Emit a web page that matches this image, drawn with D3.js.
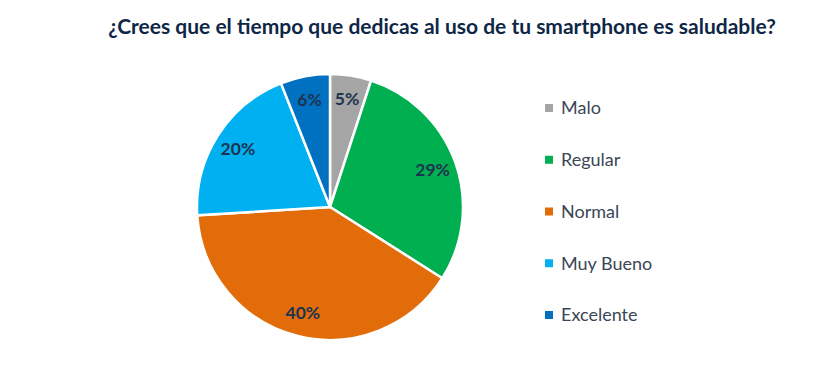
<!DOCTYPE html>
<meta charset="utf-8">
<script src="https://d3js.org/d3.v7.min.js"></script>
<style>
body{margin:0;background:#fff;}
svg{font-family:Lato,"Open Sans",sans-serif;}
</style>
<div id="chart"></div>
<script>
const categories = ["Malo", "Regular", "Normal", "Muy Bueno", "Excelente"];
const values = [5, 29, 40, 20, 6];
const colors = ["#A5A5A5", "#00B050", "#E36C0A", "#00B0F0", "#0070C0"];
const title = "¿Crees que el tiempo que dedicas al uso de tu smartphone es saludable?";

const width = 820, height = 392;
const cx = 330, cy = 207, radius = 133;

const svg = d3.select("#chart").append("svg")
  .attr("width", width)
  .attr("height", height);

svg.append("text")
  .attr("x", 442)
  .attr("y", 34)
  .attr("text-anchor", "middle")
  .attr("font-size", "21px")
  .attr("font-weight", "bold")
  .attr("fill", "#0F2747")
  .text(title);

const data = categories.map((c, i) => ({name: c, value: values[i], color: colors[i]}));

const pie = d3.pie().sort(null).value(d => d.value);
const arc = d3.arc().innerRadius(0).outerRadius(radius);
const labelArc = d3.arc().innerRadius(radius * 0.82).outerRadius(radius * 0.82);

const g = svg.append("g").attr("transform", `translate(${cx},${cy})`);

const slices = g.selectAll("g.slice")
  .data(pie(data))
  .join("g")
  .attr("class", "slice");

slices.append("path")
  .attr("d", arc)
  .attr("fill", d => d.data.color)
  .attr("stroke", "#fff")
  .attr("stroke-width", 2.5);

slices.append("text")
  .attr("transform", d => `translate(${labelArc.centroid(d)})`)
  .attr("text-anchor", "middle")
  .attr("dy", "0.35em")
  .attr("font-size", "17.5px")
  .attr("font-weight", "bold")
  .attr("fill", "#1F3350")
  .text(d => d.data.value + "%");

// legend
const legendY = d3.scalePoint().domain(categories).range([108, 315]);
const legend = svg.append("g");
const items = legend.selectAll("g")
  .data(data)
  .join("g")
  .attr("transform", d => `translate(545,${legendY(d.name)})`);

items.append("rect")
  .attr("x", 0)
  .attr("y", -4)
  .attr("width", 8)
  .attr("height", 8)
  .attr("fill", d => d.color);

items.append("text")
  .attr("x", 16)
  .attr("dy", "0.35em")
  .attr("font-size", "18px")
  .attr("fill", "#3B4656")
  .text(d => d.name);
</script>
